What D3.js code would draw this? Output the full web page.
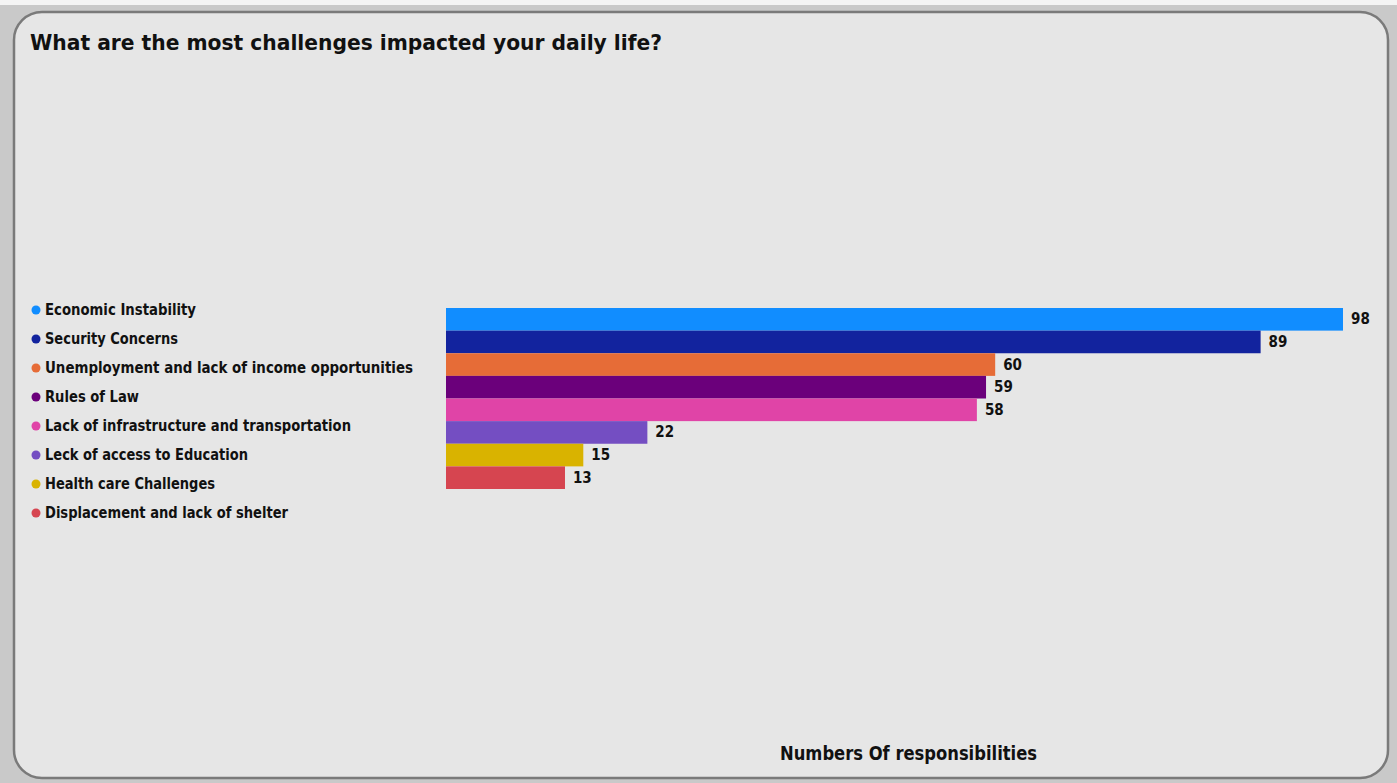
<!DOCTYPE html>
<html><head><meta charset="utf-8">
<script src="https://cdn.jsdelivr.net/npm/d3@7"></script>
<style>html,body{margin:0;padding:0;background:#c9c9c9;overflow:hidden}</style>
</head><body>
<svg id="c" width="1397" height="783"></svg>
<script>
const categories = ["Economic Instability","Security Concerns","Unemployment and lack of income opportunities","Rules of Law","Lack of infrastructure and transportation","Leck of access to Education","Health care Challenges","Displacement and lack of shelter"];
const values = [98,89,60,59,58,22,15,13];
const colors = ["#118DFF","#12239E","#E66C37","#6B007B","#E044A7","#744EC2","#D9B300","#D64550"];
const titleText = "What are the most challenges impacted your daily life?";
const axisTitle = "Numbers Of responsibilities";

const svg = d3.select("#c");
svg.append("rect").attr("x",0).attr("y",0).attr("width",1397).attr("height",5).attr("fill","#f4f4f4");
svg.append("rect").attr("x",14).attr("y",12).attr("width",1374).attr("height",766)
  .attr("rx",28).attr("fill","#e6e6e6").attr("stroke","#7a7a7a").attr("stroke-width",2.5);

const font = "'DejaVu Sans Condensed','DejaVu Sans',sans-serif";
svg.append("text").attr("x",30).attr("y",50).text(titleText)
  .attr("font-family",font).attr("font-weight","bold").attr("font-size",22).attr("fill","#111")
  .attr("textLength",632).attr("lengthAdjust","spacingAndGlyphs");

const x = d3.scaleLinear().domain([0,98]).range([446,1343]);
const y = d3.scaleBand().domain(categories).range([308,489]).padding(0);

svg.append("g").selectAll("rect").data(categories).join("rect")
  .attr("x",x(0)).attr("y",d=>y(d)).attr("width",(d,i)=>x(values[i])-x(0))
  .attr("height",y.bandwidth()).attr("fill",(d,i)=>colors[i]);

svg.append("g").selectAll("text").data(categories).join("text")
  .attr("x",(d,i)=>x(values[i])+8).attr("y",d=>y(d)+y.bandwidth()/2+5)
  .text((d,i)=>values[i]).attr("font-family",font).attr("font-weight","bold")
  .attr("font-size",15).attr("fill","#111");

const legY = d3.scalePoint().domain(categories).range([310,513]);
const lg = svg.append("g");
lg.selectAll("circle").data(categories).join("circle")
  .attr("cx",36).attr("cy",d=>legY(d)).attr("r",4.5).attr("fill",(d,i)=>colors[i]);
const legWidths = [151,133,368,94,306,203,170,243];
lg.selectAll("text").data(categories).join("text")
  .attr("x",45).attr("y",d=>legY(d)+5).text(d=>d)
  .attr("font-family",font).attr("font-weight","bold").attr("font-size",15).attr("fill","#111")
  .attr("textLength",(d,i)=>legWidths[i]).attr("lengthAdjust","spacingAndGlyphs");

svg.append("text").attr("x",780).attr("y",760).text(axisTitle)
  .attr("font-family",font).attr("font-weight","bold").attr("font-size",19).attr("fill","#111")
  .attr("textLength",257).attr("lengthAdjust","spacingAndGlyphs");
</script>
</body></html>
